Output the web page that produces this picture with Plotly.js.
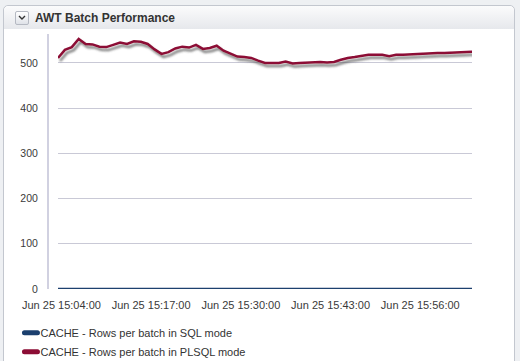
<!DOCTYPE html>
<html>
<head>
<meta charset="utf-8">
<script src="https://cdn.plot.ly/plotly-3.0.1.min.js"></script>
<style>
  html, body { margin:0; padding:0; width:520px; height:361px; overflow:hidden; background:#eef0f3; font-family:"Liberation Sans", Arial, sans-serif; }
  #panel { position:absolute; left:3px; top:5px; width:512px; height:360px; background:#ffffff; border:1px solid #c3c7cf; border-radius:5px 5px 0 0; box-sizing:border-box; }
  #header { position:absolute; left:0; top:0; right:0; height:23px; border-radius:5px 5px 0 0; background:linear-gradient(#fbfbfc, #e6e8ec); }
  #icon { position:absolute; left:11px; top:5px; width:12px; height:12px; border:1px solid #b5b9c2; border-radius:2px; background:linear-gradient(#ffffff,#dfe2e8); }
  #icon svg { position:absolute; left:2px; top:3px; }
  #title { position:absolute; left:31px; top:5px; font-weight:bold; font-size:12px; color:#333333; font-family:"Liberation Sans", Arial, sans-serif; }
  #chart { position:absolute; left:0; top:0; width:520px; height:361px; }
</style>
</head>
<body>
<svg width="0" height="0" style="position:absolute">
  <defs>
    <filter id="lineShadow" filterUnits="userSpaceOnUse" x="-100" y="-100" width="1000" height="1000">
      <feDropShadow dx="2" dy="3" stdDeviation="1.2" flood-color="#4a4a4a" flood-opacity="0.7"/>
    </filter>
  </defs>
</svg>
<div id="panel"><div id="header"><div id="icon"><svg width="8" height="6"><path d="M1,1 L4,4 L7,1" stroke="#333" stroke-width="1.4" fill="none"/></svg></div><div id="title">AWT Batch Performance</div></div></div>
<div id="chart"></div>
<script>
// Timestamps (one per minute)
const times = [
"2013-06-25 15:03:30","2013-06-25 15:04:30","2013-06-25 15:05:30","2013-06-25 15:06:30","2013-06-25 15:07:30",
"2013-06-25 15:08:30","2013-06-25 15:09:30","2013-06-25 15:10:30","2013-06-25 15:11:30","2013-06-25 15:12:30",
"2013-06-25 15:13:30","2013-06-25 15:14:30","2013-06-25 15:15:30","2013-06-25 15:16:30","2013-06-25 15:17:30",
"2013-06-25 15:18:30","2013-06-25 15:19:30","2013-06-25 15:20:30","2013-06-25 15:21:30","2013-06-25 15:22:30",
"2013-06-25 15:23:30","2013-06-25 15:24:30","2013-06-25 15:25:30","2013-06-25 15:26:30","2013-06-25 15:27:30",
"2013-06-25 15:28:30","2013-06-25 15:29:30","2013-06-25 15:30:30","2013-06-25 15:31:30","2013-06-25 15:32:30",
"2013-06-25 15:33:30","2013-06-25 15:34:30","2013-06-25 15:35:30","2013-06-25 15:36:30","2013-06-25 15:37:30",
"2013-06-25 15:38:30","2013-06-25 15:39:30","2013-06-25 15:40:30","2013-06-25 15:41:30","2013-06-25 15:42:30",
"2013-06-25 15:43:30","2013-06-25 15:44:30","2013-06-25 15:45:30","2013-06-25 15:46:30","2013-06-25 15:47:30",
"2013-06-25 15:48:30","2013-06-25 15:49:30","2013-06-25 15:50:30","2013-06-25 15:51:30","2013-06-25 15:52:30",
"2013-06-25 15:53:30","2013-06-25 15:54:30","2013-06-25 15:55:30","2013-06-25 15:56:30","2013-06-25 15:57:30",
"2013-06-25 15:58:30","2013-06-25 15:59:30","2013-06-25 16:00:30","2013-06-25 16:01:30","2013-06-25 16:02:30",
"2013-06-25 16:03:30"];

// Rows per batch in SQL mode
const sqlRows = [
0,0,0,0,0,0,0,0,0,0,0,0,0,0,0,0,0,0,0,0,
0,0,0,0,0,0,0,0,0,0,0,0,0,0,0,0,0,0,0,0,
0,0,0,0,0,0,0,0,0,0,0,0,0,0,0,0,0,0,0,0,0];

// Rows per batch in PLSQL mode
const plsqlRows = [
511,529,535,553,542,541,536,535,540,545,
542,548,547,542,530,520,524,532,536,534,
540,531,533,538,527,520,514,513,511,505,
500,500,500,503,499,500,501,502,502,501,
502,507,511,513,516,518,518,518,515,518,
518,519,520,520,521,522,522,523,524,524,525];

const seriesNames = ["CACHE - Rows per batch in SQL mode", "CACHE - Rows per batch in PLSQL mode"];
const seriesColors = ["#1b3f6e", "#8c0d35"];

const yTicks = [0,100,200,300,400,500];
const xRange = ["2013-06-25 15:03:30", "2013-06-25 16:03:30"];
const xTick0 = "2013-06-25 15:04:00";

const traces = [
  {x: times, y: sqlRows, name: seriesNames[0], type: "scatter", mode: "lines",
   line: {color: seriesColors[0], width: 2.5}, hoverinfo: "skip", cliponaxis: false},
  {x: times, y: plsqlRows, name: seriesNames[1], type: "scatter", mode: "lines",
   line: {color: seriesColors[1], width: 2.5}, hoverinfo: "skip", cliponaxis: false}
];

const fontFam = "Liberation Sans, Arial, sans-serif";
const layout = {
  width: 520, height: 361,
  margin: {l: 58, r: 48, t: 34, b: 72, autoexpand: false},
  paper_bgcolor: "rgba(0,0,0,0)",
  plot_bgcolor: "rgba(0,0,0,0)",
  showlegend: true,
  font: {family: fontFam, size: 10, color: "#3a3a3a"},
  xaxis: {
    type: "date", range: xRange, tick0: xTick0, dtick: 13*60*1000,
    tickformat: "%b %d %H:%M:%S", showgrid: false, zeroline: false, showline: false,
    ticks: "outside", ticklen: 6, tickcolor: "rgba(0,0,0,0)", automargin: false,
    tickfont: {family: fontFam, size: 11, color: "#3a3a3a"}, fixedrange: true
  },
  yaxis: {
    range: [0, 564], tickvals: yTicks, ticktext: yTicks.map(String),
    showgrid: true, gridcolor: "#c9c9d6", gridwidth: 1, zeroline: false, showline: false,
    ticks: "outside", ticklen: 17, tickcolor: "rgba(0,0,0,0)", automargin: false,
    tickfont: {family: fontFam, size: 10.5, color: "#3a3a3a"}, fixedrange: true
  },
  legend: {
    orientation: "v", x: -0.139, xanchor: "left", y: -0.115, yanchor: "top",
    font: {family: fontFam, size: 11, color: "#333333"}, bgcolor: "rgba(0,0,0,0)",
    tracegroupgap: 0, itemwidth: 30
  },
  shapes: [
    {type: "line", xref: "paper", yref: "paper", x0: -10/414, x1: -10/414, y0: 0, y1: 1,
     line: {color: "#a3a3c2", width: 1}}
  ]
};

Plotly.newPlot("chart", traces, layout, {displayModeBar: false, staticPlot: true}).then(function(gd){
  document.querySelectorAll("#chart .scatterlayer .trace path.js-line").forEach(function(p){
    p.setAttribute("filter", "url(#lineShadow)");
  });
  document.querySelectorAll("#chart .legend .legendlines path").forEach(function(p){
    p.setAttribute("d", "M24,0h13");
    p.style.strokeWidth = "5px";
    p.style.strokeLinecap = "round";
  });
});
</script>
</body>
</html>
